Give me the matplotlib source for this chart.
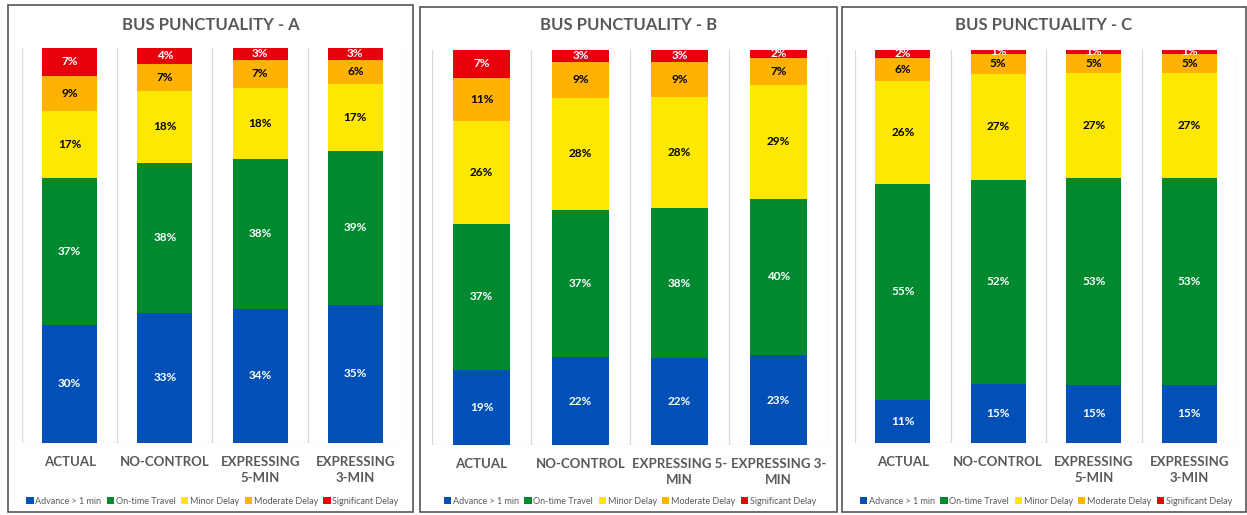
import matplotlib.pyplot as plt
from matplotlib.patches import Rectangle
import numpy as np

plt.rcParams['font.family'] = ['Lato', 'DejaVu Sans']

# -----------------------------
# data
# -----------------------------
series = ["Advance > 1 min", "On-time Travel", "Minor Delay", "Moderate Delay", "Significant Delay"]
colors = ["#0050b8", "#00892f", "#ffe800", "#ffb300", "#e8000b"]
label_colors = ["white", "white", "black", "black", "white"]

cats = ["ACTUAL", "NO-CONTROL", "EXPRESSING\n5-MIN", "EXPRESSING\n3-MIN"]
cats_b = ["ACTUAL", "NO-CONTROL", "EXPRESSING 5-\nMIN", "EXPRESSING 3-\nMIN"]

# rows = series, cols = categories
vals_a = [[30, 33, 34, 35],
          [37, 38, 38, 39],
          [17, 18, 18, 17],
          [9, 7, 7, 6],
          [7, 4, 3, 3]]
vals_b = [[19, 22, 22, 23],
          [37, 37, 38, 40],
          [26, 28, 28, 29],
          [11, 9, 9, 7],
          [7, 3, 3, 2]]
vals_c = [[11, 15, 15, 15],
          [55, 52, 53, 53],
          [26, 27, 27, 27],
          [6, 5, 5, 5],
          [2, 1, 1, 1]]

W, H = 1247, 515
fig = plt.figure(figsize=(W / 100, H / 100), dpi=100)


def px_axes(x0, y0, x1, y1):
    return fig.add_axes([x0 / W, (H - y1) / H, (x1 - x0) / W, (y1 - y0) / H])


def border(x0, y0, x1, y1):
    fig.patches.append(Rectangle((x0 / W, (H - y1) / H), (x1 - x0) / W, (y1 - y0) / H,
                                 transform=fig.transFigure, fill=False,
                                 edgecolor="#555555", linewidth=1.2))


def panel(box, plot, title, labels, vals):
    border(*box)
    ax = px_axes(*plot)
    v = np.array(vals, dtype=float)
    norm = v / v.sum(axis=0) * 100
    x = np.arange(len(labels))
    bottom = np.zeros(len(labels))
    for i, name in enumerate(series):
        ax.bar(x, norm[i], 0.58, bottom=bottom, color=colors[i], label=name, zorder=2)
        for j in range(len(labels)):
            ax.text(x[j], bottom[j] + norm[i][j] / 2, f"{int(v[i][j])}%",
                    ha="center", va="center", color=label_colors[i],
                    fontsize=8.5, fontweight="bold", zorder=3)
        bottom += norm[i]
    ax.set_xlim(-0.5, len(labels) - 0.5)
    ax.set_ylim(0, 100)
    for b in np.arange(-0.5, len(labels), 1):
        ax.axvline(b, color="#d9d9d9", linewidth=0.9, zorder=1)
    ax.axhline(0, color="#d9d9d9", linewidth=0.9, zorder=1)
    for s in ax.spines.values():
        s.set_visible(False)
    ax.set_yticks([])
    ax.set_xticks(x)
    ax.set_xticklabels(labels, fontsize=9.5, fontweight="bold", color="#595959",
                       linespacing=1.5)
    ax.tick_params(axis="x", length=0, pad=9)
    cx = (box[0] + box[2]) / 2
    fig.text(cx / W, (H - 25) / H, title, ha="center", va="center",
             fontsize=12, fontweight="bold", color="#595959")
    ax.legend(loc="center", bbox_to_anchor=(0.5, -(501 - plot[3]) / (plot[3] - plot[1])),
              ncol=5, frameon=False, fontsize=6.5, handlelength=0.8, handleheight=0.8,
              handletextpad=0.2, columnspacing=0.6, labelcolor="#595959")


panel((8, 5, 413, 512), (22, 48, 403, 443), "BUS PUNCTUALITY - A", cats, vals_a)
panel((420, 7, 837, 512), (432, 50, 828, 445), "BUS PUNCTUALITY - B", cats_b, vals_b)
panel((842, 7, 1246, 512), (855, 50, 1237, 443), "BUS PUNCTUALITY - C", cats, vals_c)

fig.savefig("out.png", dpi=100)
